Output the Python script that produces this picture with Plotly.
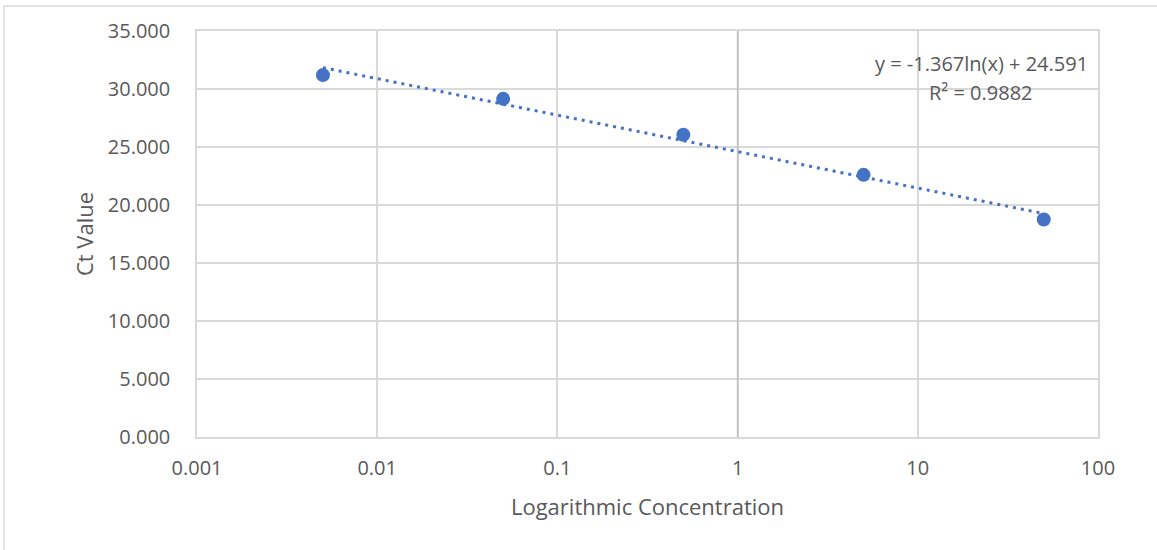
import numpy as np
import plotly.graph_objects as go

concentration = [0.005, 0.05, 0.5, 5, 50]
ct_values = [31.2, 29.15, 26.05, 22.6, 18.75]
y_ticks = [0, 5, 10, 15, 20, 25, 30, 35]
x_ticks = [0.001, 0.01, 0.1, 1, 10, 100]
x_tick_labels = ["0.001", "0.01", "0.1", "1", "10", "100"]
eq_line1 = "y = -1.367ln(x) + 24.591"
eq_line2 = "R² = 0.9882"

# logarithmic trendline fitted to the data (as Excel does)
lnx = np.log(concentration)
slope, intercept = np.polyfit(lnx, ct_values, 1)
fit_x = np.logspace(np.log10(min(concentration)), np.log10(max(concentration)), 100)
fit_y = slope * np.log(fit_x) + intercept

blue = "#4472C4"
grey = "#595959"
font = "Open Sans, Lato, sans-serif"

W, H = 1157, 550
ML, MR, MT, MB = 197, 59, 31, 113
PW, PH = W - ML - MR, H - MT - MB


def px_to_paper(x, y):
    return (x - ML) / PW, (H - MB - y) / PH


fig = go.Figure()
fig.add_trace(go.Scatter(x=fit_x, y=fit_y, mode="lines",
                         line=dict(color=blue, width=3, dash="3px,5px"),
                         hoverinfo="skip", showlegend=False))
fig.add_trace(go.Scatter(x=concentration, y=ct_values, mode="markers",
                         marker=dict(color=blue, size=14), showlegend=False))
# vertical axis line crossing at x = 1
fig.add_shape(type="line", xref="x", yref="y", x0=1, x1=1, y0=0, y1=35,
              line=dict(color="#bfbfbf", width=1.5), layer="between")
# chart outer border
bx0, by0 = px_to_paper(4, 560)
bx1, by1 = px_to_paper(1165, 6)
fig.add_shape(type="rect", xref="paper", yref="paper", x0=bx0, x1=bx1, y0=by0, y1=by1,
              line=dict(color="#d9d9d9", width=1.5))

ax, ay1 = px_to_paper(981, 63)
_, ay2 = px_to_paper(981, 92)
for txt, ay in [(eq_line1, ay1), (eq_line2, ay2)]:
    fig.add_annotation(x=ax, y=ay, xref="paper", yref="paper", text=txt,
                       showarrow=False, xanchor="center", yanchor="middle",
                       font=dict(family=font, size=20, color=grey))

fig.update_layout(
    width=W, height=H,
    margin=dict(l=ML, r=MR, t=MT, b=MB),
    plot_bgcolor="white", paper_bgcolor="white",
    font=dict(family=font, size=20, color=grey),
    xaxis=dict(type="log", range=[-3, 2], tickvals=x_ticks, ticktext=x_tick_labels,
               showgrid=True, gridcolor="#d9d9d9", gridwidth=1.5,
               showline=True, linecolor="#d9d9d9", linewidth=1.5, mirror=True,
               zeroline=False, ticks="outside", ticklen=12, tickcolor="rgba(0,0,0,0)",
               tickfont=dict(size=20),
               title=dict(text="Logarithmic Concentration", font=dict(size=22), standoff=20)),
    yaxis=dict(range=[0, 35], tickvals=y_ticks, tickformat=".3f",
               showgrid=True, gridcolor="#d9d9d9", gridwidth=1.5,
               showline=True, linecolor="#d9d9d9", linewidth=1.5, mirror=True,
               zeroline=False, ticks="outside", ticklen=21, tickcolor="rgba(0,0,0,0)",
               tickfont=dict(size=20),
               title=dict(text="Ct Value", font=dict(size=22), standoff=8)),
)
fig.write_html("out.html", config={"displayModeBar": False},
               post_script="document.body.style.margin='0';")
